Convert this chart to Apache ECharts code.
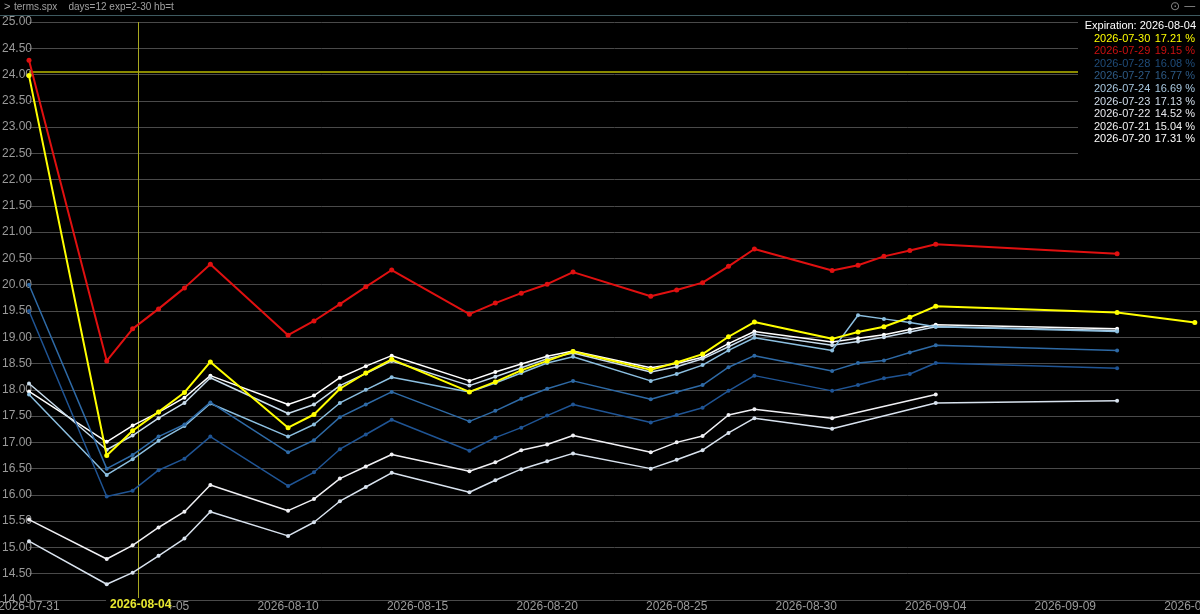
<!DOCTYPE html>
<html><head><meta charset="utf-8">
<script src="https://cdn.jsdelivr.net/npm/echarts@6/dist/echarts.min.js"></script>
<style>html,body{margin:0;padding:0;background:#000}#c{width:1200px;height:614px}</style>
</head><body><div id="c"></div>
<script>
const dates = ['2026-07-31','2026-08-03','2026-08-04','2026-08-05','2026-08-06','2026-08-07','2026-08-10','2026-08-11','2026-08-12','2026-08-13','2026-08-14','2026-08-17','2026-08-18','2026-08-19','2026-08-20','2026-08-21','2026-08-24','2026-08-25','2026-08-26','2026-08-27','2026-08-28','2026-08-31','2026-09-01','2026-09-02','2026-09-03','2026-09-04','2026-09-11','2026-09-14'];
const names = ['2026-07-30','2026-07-29','2026-07-28','2026-07-27','2026-07-24','2026-07-23','2026-07-22','2026-07-21','2026-07-20'];
const legendValues = ['17.21 %','19.15 %','16.08 %','16.77 %','16.69 %','17.13 %','14.52 %','15.04 %','17.31 %'];
const colors = ['#ffff00','#e01010','#1f5494','#2e6aa6','#8cbfe0','#c8dcec','#d8e2ee','#f0f0f4','#ffffff'];
const legendColors = ['#ffff00','#cc1010','#1f4c7a','#2d5a85','#a8c8e0','#d0dcea','#e8e8ee','#f0f0f0','#ffffff'];
const s0730 = [23.98,16.75,17.22,17.58,17.95,18.53,17.28,17.53,18.02,18.32,18.58,17.96,18.15,18.37,18.55,18.73,18.38,18.52,18.68,19.01,19.29,18.97,19.10,19.20,19.38,19.59,19.47,19.28];
const s0729 = [24.27,18.55,19.16,19.54,19.94,20.39,19.04,19.31,19.63,19.96,20.28,19.44,19.65,19.84,20.01,20.24,19.78,19.90,20.04,20.35,20.68,20.27,20.37,20.54,20.65,20.77,20.59,null];
const s0728 = [19.50,15.97,16.08,16.47,16.69,17.11,16.17,16.43,16.87,17.15,17.43,16.84,17.09,17.28,17.51,17.72,17.38,17.52,17.66,17.98,18.27,17.98,18.09,18.22,18.30,18.51,18.41,null];
const s0727 = [20.00,16.50,16.76,17.11,17.34,17.76,16.81,17.04,17.48,17.72,17.96,17.40,17.60,17.83,18.02,18.17,17.82,17.96,18.09,18.43,18.65,18.36,18.51,18.56,18.71,18.85,18.75,null];
const s0724 = [17.91,16.38,16.68,17.03,17.31,17.74,17.11,17.34,17.75,18.00,18.24,17.96,18.13,18.32,18.51,18.63,18.17,18.30,18.47,18.75,18.99,18.75,19.42,19.35,19.28,19.20,19.11,null];
const s0723 = [18.12,16.86,17.13,17.46,17.75,18.23,17.55,17.72,18.08,18.31,18.55,18.08,18.25,18.42,18.59,18.70,18.34,18.44,18.59,18.82,19.06,18.85,18.92,19.00,19.10,19.20,19.13,null];
const s0722 = [15.12,14.30,14.52,14.84,15.17,15.68,15.22,15.48,15.88,16.15,16.42,16.05,16.28,16.49,16.64,16.79,16.50,16.67,16.85,17.18,17.46,17.26,null,null,null,17.75,17.79,null];
const s0721 = [15.53,14.78,15.04,15.38,15.68,16.19,15.70,15.92,16.31,16.54,16.77,16.45,16.62,16.85,16.96,17.13,16.81,17.00,17.12,17.52,17.63,17.46,null,null,null,17.91,null,null];
const s0720 = [17.97,17.01,17.32,17.57,17.85,18.27,17.72,17.89,18.23,18.45,18.65,18.17,18.34,18.49,18.64,18.74,18.42,18.50,18.62,18.88,19.11,18.91,18.98,19.05,19.15,19.24,19.16,null];
const seriesData = [s0730,s0729,s0728,s0727,s0724,s0723,s0722,s0721,s0720];
const yTicks = {min:14, max:25, step:0.5};
const cursorDate = '2026-08-04T05:00:00Z';
const cursorLabel = '2026-08-04';
const hLineValue = 24.05;
const headerText = 'terms.spx    days=12 exp=2-30 hb=t';
const legendTitle = 'Expiration: 2026-08-04';

const DAY = 86400000;
const ts = d => Date.parse(d.length===10 ? d+'T00:00:00Z' : d);
const pad = n => String(n).padStart(2,'0');
const fmt = v => { const d=new Date(v); return d.getUTCFullYear()+'-'+pad(d.getUTCMonth()+1)+'-'+pad(d.getUTCDate()); };
const xMin = ts(dates[0]);
const xMax = xMin + 45.2*DAY;

const chart = echarts.init(document.getElementById('c'));
const series = seriesData.map((arr,i)=>{
  const pts = [];
  arr.forEach((v,j)=>{ if(v!==null) pts.push([ts(dates[j]), v]); });
  return {
    name: names[i], type:'line', data: pts, z: 20 - i,
    symbol:'circle', symbolSize: i<2?5:4,
    lineStyle:{color:colors[i], width: i<2?2:1.5},
    itemStyle:{color:colors[i]},
    animation:false, silent:true
  };
}).reverse();
series.push({
  type:'line', data:[], silent:true, animation:false,
  markLine:{symbol:'none', silent:true, label:{show:false},
    lineStyle:{color:'#b8b800', width:1, type:'solid'},
    data:[{yAxis:hLineValue, lineStyle:{color:'#b8b800',width:1.5}},{xAxis:ts(cursorDate), lineStyle:{color:'#a8a820',width:1}}]}
});
chart.setOption({
  backgroundColor:'#000',
  animation:false,
  grid:{left:29, right:0, top:22, bottom:14, containLabel:false, outerBoundsMode:'none'},
  xAxis:{type:'value', min:xMin, max:xMax, interval:5*DAY,
    axisLine:{show:false}, axisTick:{show:false}, splitLine:{show:false},
    axisLabel:{formatter:fmt, color:'#9a9a9a', fontSize:12, fontFamily:'Liberation Sans', margin:1, showMaxLabel:false, hideOverlap:false}},
  yAxis:{type:'value', min:yTicks.min, max:yTicks.max, interval:yTicks.step,
    axisLine:{show:false}, axisTick:{show:false},
    splitLine:{lineStyle:{color:'#4a4a4a', width:1}},
    axisLabel:{inside:true, formatter:v=>v.toFixed(2), color:'#9a9a9a', fontSize:12, fontFamily:'Liberation Sans', margin:-27, align:'left', verticalAlign:'middle'}},
  series
});
const cx = chart.convertToPixel({xAxisIndex:0}, ts(cursorDate));
const graphics = [
  {type:'rect', shape:{x:0,y:0,width:1200,height:15}, style:{fill:'#000'}, z:50},
  {type:'line', shape:{x1:0,y1:15.5,x2:1200,y2:15.5}, style:{stroke:'#3e5a60',lineWidth:1}, z:51},
  {type:'text', x:4, y:1, style:{text:'>', fill:'#aaa', font:'11px Liberation Sans'}, z:51},
  {type:'text', x:14, y:2, style:{text:headerText, fill:'#a0a0a0', font:'10px Liberation Sans'}, z:51},
  {type:'text', x:1170, y:1, style:{text:'⊙ —', fill:'#888', font:'12px DejaVu Sans'}, z:51},
  {type:'rect', shape:{x:1078,y:16,width:122,height:147}, style:{fill:'#000'}, z:50},
  {type:'text', x:1196, y:20, style:{text:legendTitle, fill:'#ffffff', font:'11px Liberation Sans', align:'right'}, z:51},
  {type:'rect', shape:{x:cx-32,y:598,width:64,height:16}, style:{fill:'#000'}, z:50},
  {type:'text', x:cx-28, y:599, style:{text:cursorLabel, fill:'#e8e830', font:'bold 12px Liberation Sans'}, z:51}
];
names.forEach((n,i)=>{
  graphics.push({type:'text', x:1094, y:33+i*12.6, style:{text:n, fill:legendColors[i], font:'11px Liberation Sans'}, z:51});
  graphics.push({type:'text', x:1195, y:33+i*12.6, style:{text:legendValues[i], fill:legendColors[i], font:'11px Liberation Sans', align:'right'}, z:51});
});
chart.setOption({graphic:graphics});
</script></body></html>
